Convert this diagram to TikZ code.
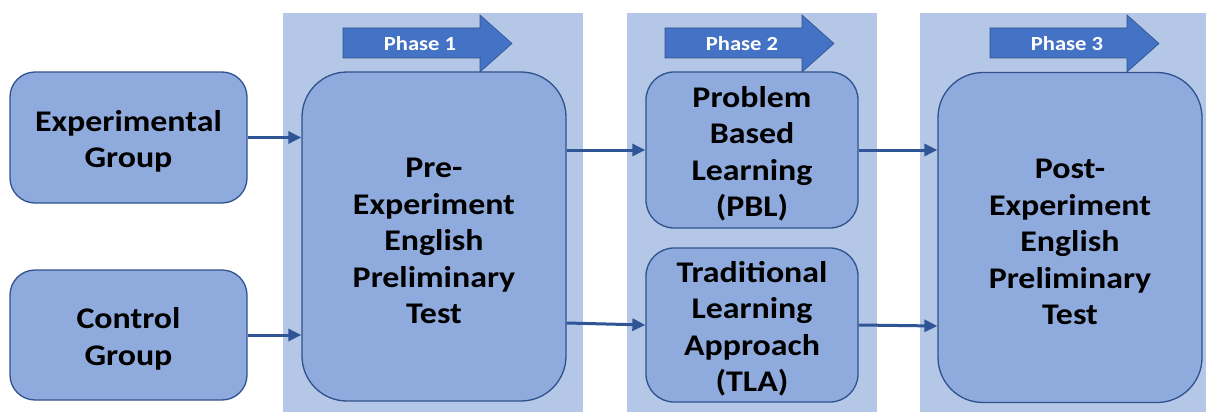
\documentclass[tikz,border=0pt]{standalone}
\usepackage{fontspec}
\setmainfont{Carlito}[FakeStretch=1.13]
\usetikzlibrary{arrows.meta}

\definecolor{panelblue}{HTML}{B4C7E7}
\definecolor{boxblue}{HTML}{8FAADC}
\definecolor{edgeblue}{HTML}{2F528F}
\definecolor{phaseblue}{HTML}{4472C4}
\definecolor{linkblue}{HTML}{2F5597}

\newcommand{\topstrut}{\rule{0pt}{29pt}}

\begin{document}
\begin{tikzpicture}[%
      x=1pt, y=-1pt,
      box/.style={draw=edgeblue, line width=1.3pt, fill=boxblue, align=center,
        inner sep=0pt, font=\bfseries\fontsize{30}{36.5}\selectfont},
      link/.style={color=linkblue, line width=3pt,
        -{Triangle[length=13pt,width=12pt]}},
      ]
      \useasboundingbox (0,0) rectangle (1206,412);

      % phase panels
      \fill [color=panelblue] (283,13) rectangle (583,412);
      \fill [color=panelblue] (627,13) rectangle (877,412);
      \fill [color=panelblue] (920,13) rectangle (1206,412);

      % phase arrows
      \foreach \px/\num in {343/1, 665/2, 990/3} {
        \filldraw [fill=phaseblue, draw=edgeblue, line width=0.6pt]
          (\px,28) -- (\px+137,28) -- (\px+137,15) -- (\px+169,43.5)
          -- (\px+137,72) -- (\px+137,58) -- (\px,58) -- cycle;
        \node [text=white, font=\bfseries\fontsize{20}{22}\selectfont]
          (phase\num) at (\px+77,44) {Phase \num};
      }

      \node [box, rounded corners=25pt, minimum width=237pt, minimum height=131pt]
        (exp) at (128.5,137.5) {\topstrut Experimental\\Group};
      \node [box, rounded corners=25pt, minimum width=237pt, minimum height=130pt]
        (ctrl) at (128.5,335) {\topstrut Control\\Group};
      \node [box, rounded corners=45pt, minimum width=264pt, minimum height=329pt]
        (pre) at (434,236.5) {\topstrut Pre-\\Experiment\\English\\Preliminary\\Test};
      \node [box, rounded corners=28pt, minimum width=212pt, minimum height=156pt]
        (pbl) at (752,150) {\topstrut Problem\\Based\\Learning\\(PBL)};
      \node [box, rounded corners=28pt, minimum width=212pt, minimum height=154pt]
        (tla) at (752,325) {\topstrut Traditional\\Learning\\Approach\\(TLA)};
      \node [box, rounded corners=45pt, minimum width=264pt, minimum height=330pt]
        (post) at (1070,237.5) {\topstrut Post-\\Experiment\\English\\Preliminary\\Test};

      \draw [link] (exp.east) -- (exp.east -| pre.west);
      \draw [link] (ctrl.east) -- (ctrl.east -| pre.west);
      \draw [link] (pre.east |- pbl.west) -- (pbl.west);
      \draw [link] ([yshift=2pt]pre.east |- tla.west) -- (tla.west);
      \draw [link] (pbl.east) -- (pbl.east -| post.west);
      \draw [link] (tla.east) -- ([yshift=-1pt]tla.east -| post.west);
\end{tikzpicture}
\end{document}
